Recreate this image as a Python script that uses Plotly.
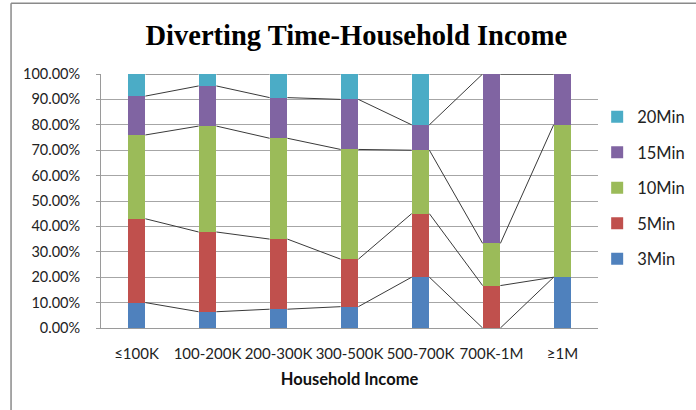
import plotly.graph_objects as go

# Share of respondents by diverting time, per household income band (percent)
categories = ["≤100K", "100-200K", "200-300K", "300-500K", "500-700K", "700K-1M", "≥1M"]
min3 = [10.0, 6.4, 7.4, 8.4, 20.0, 0.0, 20.0]
min5 = [33.0, 31.4, 27.6, 18.7, 25.0, 16.7, 0.0]
min10 = [33.0, 41.7, 39.7, 43.2, 25.0, 16.6, 60.0]
min15 = [15.3, 15.8, 16.0, 19.7, 10.0, 66.7, 20.0]
min20 = [8.7, 4.7, 9.3, 10.0, 20.0, 0.0, 0.0]

series = [
    ("3Min", min3, "#4F81BD"),
    ("5Min", min5, "#C0504D"),
    ("10Min", min10, "#9BBB59"),
    ("15Min", min15, "#8064A2"),
    ("20Min", min20, "#4BACC6"),
]

BAR_W = 0.25
xs = list(range(len(categories)))

fig = go.Figure()

# Series lines joining the top of each segment between neighbouring bars
cum = [0.0] * len(categories)
tops = []
for name, vals, color in series:
    cum = [c + v for c, v in zip(cum, vals)]
    tops.append(list(cum))
for top in tops:
    lx, ly = [], []
    for i in range(len(categories) - 1):
        lx += [xs[i] + BAR_W / 2, xs[i + 1] - BAR_W / 2, None]
        ly += [top[i], top[i + 1], None]
    fig.add_trace(go.Scatter(
        x=lx, y=ly, mode="lines", line=dict(color="#3a3a3a", width=1),
        showlegend=False, hoverinfo="skip",
    ))

n = len(series)
for k, (name, vals, color) in enumerate(series):
    fig.add_trace(go.Bar(
        x=xs, y=vals, name=name, width=BAR_W,
        marker=dict(color=color, line=dict(width=0)),
        legendgroup=name, legendrank=n - k,
    ))

font_sans = "Lato, 'Open Sans', sans-serif"

fig.update_layout(
    width=696, height=410,
    barmode="stack",
    plot_bgcolor="white", paper_bgcolor="white",
    margin=dict(l=101, r=98, t=74, b=82, autoexpand=False),
    title=dict(
        text="<b>Diverting Time-Household Income</b>",
        x=0.512, xanchor="center", y=0.915, yanchor="middle",
        font=dict(family="Liberation Serif, 'DejaVu Serif', serif", size=28.5, color="#000000"),
    ),
    legend=dict(
        xref="container", yref="container",
        x=0.858, xanchor="left", y=0.757, yanchor="top",
        traceorder="grouped", tracegroupgap=11,
        font=dict(family=font_sans, size=16.5, color="#222222"),
        itemwidth=30, bgcolor="rgba(0,0,0,0)",
    ),
    xaxis=dict(
        range=[-0.5, len(categories) - 0.5],
        tickmode="array", tickvals=xs, ticktext=categories,
        showgrid=False, showline=True, linecolor="#9a9a9a", linewidth=1,
        ticks="", ticklabelstandoff=12, tickangle=0, automargin=False,
        tickfont=dict(family=font_sans, size=15, color="#222222"),
        title=dict(text="<b>Household Income</b>", standoff=12,
                   font=dict(family=font_sans, size=16.5, color="#111111")),
        zeroline=False,
    ),
    yaxis=dict(
        range=[0, 100], tickmode="array",
        tickvals=[0, 10, 20, 30, 40, 50, 60, 70, 80, 90, 100],
        ticktext=["0.00%", "10.00%", "20.00%", "30.00%", "40.00%", "50.00%",
                  "60.00%", "70.00%", "80.00%", "90.00%", "100.00%"],
        showgrid=True, gridcolor="#a6a6a6", gridwidth=1,
        showline=True, linecolor="#9a9a9a", linewidth=1,
        ticks="outside", ticklen=4, tickcolor="#9a9a9a",
        ticklabelstandoff=13, automargin=False,
        tickfont=dict(family=font_sans, size=14.5, color="#222222"),
        zeroline=False,
    ),
    shapes=[
        # chart frame (top and left edges)
        dict(type="line", xref="paper", yref="paper", x0=-0.181, x1=1.3,
             y0=1.279, y1=1.279, line=dict(color="#8a8a8a", width=1.5)),
        dict(type="line", xref="paper", yref="paper", x0=-0.181, x1=-0.181,
             y0=1.279, y1=-0.33, line=dict(color="#8a8a8a", width=1.5)),
    ],
)

fig.write_html("out.html")
